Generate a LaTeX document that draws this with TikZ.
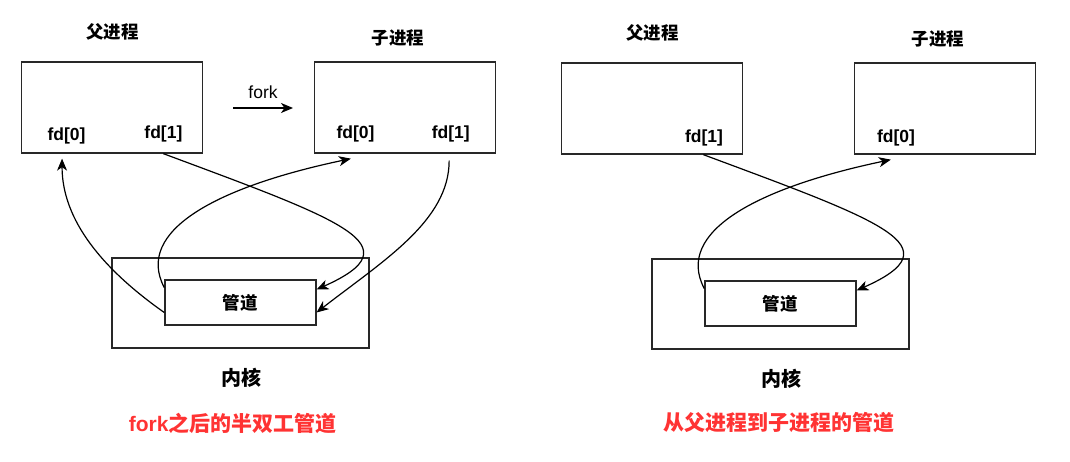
\documentclass[tikz,border=0pt]{standalone}
\usepackage{fontspec}
\setmainfont{Liberation Sans}
\newfontfamily\cjk{Noto Sans CJK SC}
\usetikzlibrary{arrows.meta,calc}
\definecolor{redtxt}{RGB}{255,51,51}
\definecolor{boxline}{RGB}{40,40,40}
\begin{document}
\begin{tikzpicture}[x=1pt,y=-1pt,
  procbox/.style={draw=boxline, line width=1.3pt, minimum width=181pt, minimum height=91pt, inner sep=0pt},
  kernbox/.style={draw=boxline, line width=1.3pt, minimum width=257pt, minimum height=90pt, inner sep=0pt},
  pipebox/.style={draw=boxline, line width=1.3pt, fill=white, minimum width=151pt, minimum height=45pt, inner sep=0pt},
  title/.style={font=\cjk\bfseries\fontsize{17.5}{19}\selectfont, inner sep=0pt},
  fdlab/.style={font=\bfseries\fontsize{17.5}{19}\selectfont, inner sep=0pt},
  kern/.style={font=\cjk\bfseries\fontsize{20}{22}\selectfont, inner sep=0pt},
  caption/.style={font=\bfseries\fontsize{21}{23}\selectfont, text=redtxt, inner sep=0pt},
  conn/.style={line width=1.2pt, -{Stealth[length=12pt,width=10pt,inset=3.5pt]}}
]
\useasboundingbox[fill=white] (0,0) rectangle (1070,462);

% ---------- left diagram ----------
\node[procbox] (P) at (112.2,107.5) {};
\node[procbox] (C) at (405,107.5) {};
\node[kernbox] (K) at (240.4,303) {};
\node[pipebox] (Pi) at (240.4,302.5) {\cjk\bfseries\fontsize{17.5}{19}\selectfont 管道};
\node[title] (Pt) at (112.5,32) {父进程};
\node[title] (Ct) at (398,38) {子进程};
\node[font=\fontsize{17.5}{19}\selectfont, inner sep=0pt] (fk) at (263,92) {fork};
\coordinate (f1) at (233,108);
\coordinate (f2) at (293,108);
\draw[conn] (f1) -- (f2);
\node[fdlab] (lp0) at (66.5,136) {fd[0]};
\node[fdlab] (lp1) at (163.4,134) {fd[1]};
\node[fdlab] (cp0) at (355.5,134) {fd[0]};
\node[fdlab] (cp1) at (450.7,134) {fd[1]};
\node[kern] (Kt) at (241,378) {内核};
\node[caption] (cap1) at (232.6,423) {fork{\cjk 之后的半双工管道}};

\draw[conn] ($(Pi.west)+(0,10)$) .. controls +(-61,-43) and +(0,62) .. ($(P.south west)+(41,5)$);
\draw[conn] ($(P.south east)+(-40,0)$) .. controls +(180,67) and +(99,-44) .. ($(Pi.east)+(0,-13)$);
\draw[conn] ($(Pi.west)+(0,-15)$) .. controls +(-30,-57) and +(-133,28) .. ($(C.south west)+(37,5)$);
\draw[conn] ($(C.south east)+(-47,7)$) .. controls +(0,60) and +(67,-52) .. ($(Pi.east)+(0,10)$);

% ---------- right diagram ----------
\begin{scope}[shift={(540,1)}]
\node[procbox] (P2) at (112.2,107.5) {};
\node[procbox] (C2) at (405,107.5) {};
\node[kernbox] (K2) at (240.4,303) {};
\node[pipebox] (Pi2) at (240.4,302.5) {\cjk\bfseries\fontsize{17.5}{19}\selectfont 管道};
\node[title] (Pt2) at (112.5,32) {父进程};
\node[title] (Ct2) at (398,38) {子进程};
\node[fdlab] (rp1) at (164,137) {fd[1]};
\node[fdlab] (rc0) at (356,137) {fd[0]};
\node[kern] (Kt2) at (241,378) {内核};
\node[caption, font=\cjk\bfseries\fontsize{21}{23}\selectfont] (cap2) at (238.7,422) {从父进程到子进程的管道};

\draw[conn] ($(P2.south east)+(-40,0)$) .. controls +(180,67) and +(99,-44) .. ($(Pi2.east)+(0,-13)$);
\draw[conn] ($(Pi2.west)+(0,-15)$) .. controls +(-30,-57) and +(-133,28) .. ($(C2.south west)+(37,5)$);
\end{scope}
\end{tikzpicture}
\end{document}
